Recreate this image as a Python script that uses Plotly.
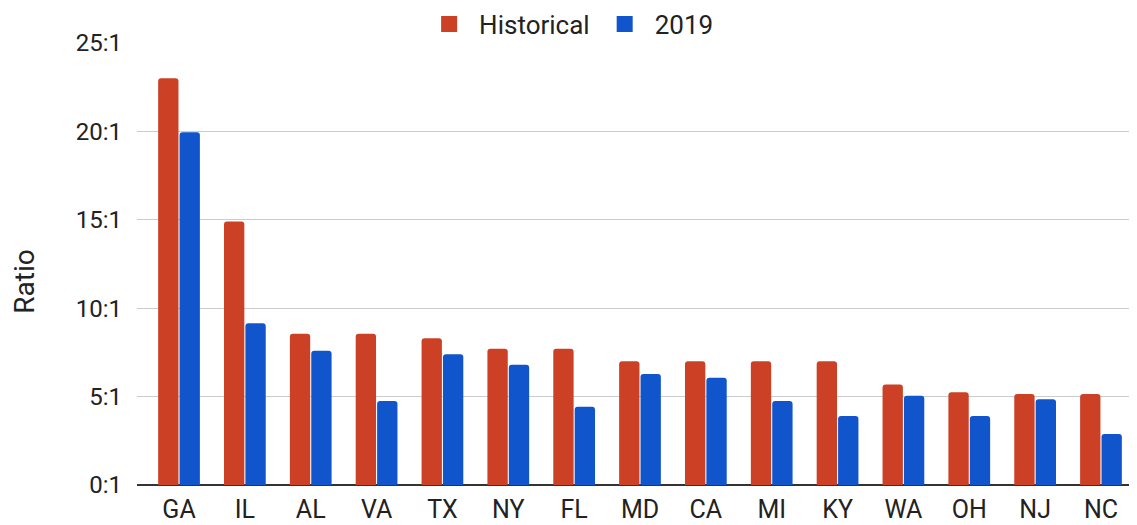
import plotly.graph_objects as go

states = ["GA", "IL", "AL", "VA", "TX", "NY", "FL", "MD", "CA", "MI", "KY", "WA", "OH", "NJ", "NC"]
historical = [23.0, 14.9, 8.55, 8.55, 8.3, 7.7, 7.7, 7.0, 7.0, 7.0, 7.0, 5.68, 5.25, 5.15, 5.15]
y2019 = [19.95, 9.15, 7.6, 4.75, 7.4, 6.8, 4.42, 6.28, 6.07, 4.75, 3.9, 5.05, 3.9, 4.85, 2.88]
tick_vals = [0, 5, 10, 15, 20, 25]
tick_text = ["0:1", "5:1", "10:1", "15:1", "20:1", "25:1"]

RED = "#CC4125"
BLUE = "#1155CC"
FONT = "Roboto"
TXT = "#222222"

fig = go.Figure()
fig.add_trace(go.Bar(x=states, y=historical, name="Historical", marker_color=RED,
                     marker_line_width=0, showlegend=False))
fig.add_trace(go.Bar(x=states, y=y2019, name="2019", marker_color=BLUE,
                     marker_line_width=0, showlegend=False))
# legend entries with larger square swatches
for nm, col in [("Historical", RED), ("2019", BLUE)]:
    fig.add_trace(go.Scatter(x=[None], y=[None], mode="markers", name=nm,
                             marker=dict(symbol="square", size=22, color=col)))

# page body has an 8px default margin, so the figure is sized to end at the window edge
fig.update_layout(
    width=1129, height=517,
    paper_bgcolor="white", plot_bgcolor="white",
    font=dict(family=FONT, size=24, color=TXT),
    margin=dict(l=129, r=0, t=35, b=40, autoexpand=False),
    barmode="group", bargap=0.35, bargroupgap=0.05,
    barcornerradius=3,
    legend=dict(orientation="h", xref="container", x=0.497, xanchor="center",
                yref="container", y=0.969, yanchor="middle",
                font=dict(family=FONT, size=26, color=TXT),
                itemwidth=50, tracegroupgap=0),
    xaxis=dict(showgrid=False, ticks="", tickfont=dict(size=25, color=TXT),
               showline=False, ticklabelstandoff=7, range=[-0.638, 14.547]),
    yaxis=dict(range=[0, 25], tickvals=tick_vals, ticktext=tick_text,
               showgrid=True, gridcolor="#CCCCCC", gridwidth=1,
               zeroline=True, zerolinecolor="#333333", zerolinewidth=2,
               tickfont=dict(size=24, color=TXT), ticklabelstandoff=14),
    annotations=[dict(text="Ratio", textangle=-90, xref="paper", yref="paper",
                      x=-0.112, y=0.46, xanchor="center", yanchor="middle",
                      showarrow=False, font=dict(family=FONT, size=28, color=TXT))],
)

fig.write_html("out.html")
